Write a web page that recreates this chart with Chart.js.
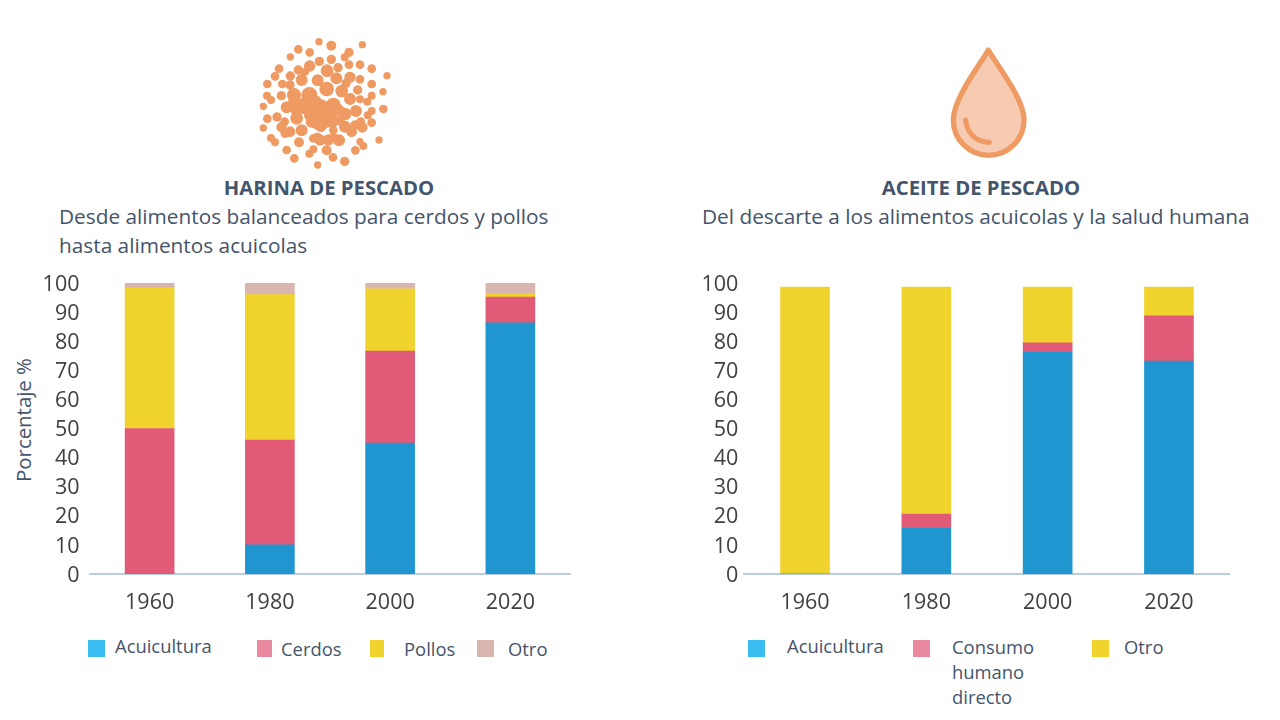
<!DOCTYPE html>
<html lang="es"><head><meta charset="utf-8">
<script src="https://cdn.jsdelivr.net/npm/chart.js@4"></script>
<style>
html,body{margin:0;padding:0;background:#fff;width:1280px;height:720px;overflow:hidden;font-family:"Open Sans",sans-serif}
.t{position:absolute;white-space:nowrap;color:#44546a;line-height:1;transform:translateY(-50%)}
.h{font-weight:700;font-size:20.3px;transform:translate(-50%,-50%)}
.s{font-size:20.8px}
.l{font-size:18.4px}
.y{font-size:20.4px;transform:translate(-50%,-50%) rotate(-90deg)}
.sw{position:absolute;width:17px;height:17px;top:640px}
.c{position:absolute;top:260px;width:640px;height:360px}
svg{position:absolute}
</style></head><body>
<svg id="meal" style="left:240px;top:30px" width="170" height="140" viewBox="0 0 510 420" fill="#ee9a62" stroke="#ee9a62" stroke-width="4"></svg>
<svg style="left:930px;top:35px" width="120" height="130" viewBox="0 0 360 390">
<path d="M175 45C150 90 70 190 70 255A106 106 0 0 0 282 255C282 190 200 90 175 45Z" fill="#f6cbb2" stroke="#ee9a62" stroke-width="16" stroke-linejoin="round"/>
<path d="M107 255C110 295 140 322 178 322" fill="none" stroke="#ee9a62" stroke-width="15" stroke-linecap="round"/>
</svg>
<div class="t h" style="left:329px;top:187px">HARINA DE PESCADO</div>
<div class="t h" style="left:981px;top:187px">ACEITE DE PESCADO</div>
<div class="t s" style="left:59px;top:216px">Desde alimentos balanceados para cerdos y pollos</div>
<div class="t s" style="left:59px;top:245px">hasta alimentos acuicolas</div>
<div class="t s" style="left:702px;top:216px">Del descarte a los alimentos acuicolas y la salud humana</div>
<div class="t y" id="ytitle" style="left:23px;top:420px"></div>
<div class="c" style="left:0"><canvas id="left"></canvas></div>
<div class="c" style="left:640px"><canvas id="right"></canvas></div>
<div id="legends"></div>
<script>
const years = ['1960','1980','2000','2020'];
const mealAcuicultura = [0,10,45,86.3];
const mealCerdos = [50,36,31.6,8.9];
const mealPollos = [48.3,50,21.4,1];
const mealOtro = [1.7,4,2,3.8];
const oilAcuicultura = [0,15.8,76.3,73.2];
const oilConsumo = [0,4.8,3.1,15.5];
const oilOtro = [98.6,78,19.2,9.9];
const yAxisTitle = 'Porcentaje %';
const mealLegend = ['Acuicultura','Cerdos','Pollos','Otro'];
const oilLegend = ['Acuicultura','Consumo humano directo','Otro'];

const BLUE='#1f96d0',PINK='#e15a78',YELLOW='#f0d32d',ROSE='#d9b5af';
const dots=[[237,35,9],[274,47,13],[367,44,9],[175,58,11],[209,67,11],[327,67,12],[314,82,10],[151,81,9],[238,94,12],[274,88,12],[327,104,11],[360,104,11],[117,116,11],[209,108,15],[195,125,10],[175,120,12],[261,122,17],[294,113,12],[395,116,11],[441,137,9],[105,139,11],[151,138,12],[185,150,16],[233,151,16],[289,145,16],[330,142,15],[360,148,11],[318,160,12],[82,162,11],[127,162,11],[150,165,12],[395,162,11],[260,177,20],[305,183,17],[353,180,12],[429,185,9],[162,195,19],[208,195,22],[81,197,10],[93,210,10],[124,197,12],[395,197,10],[330,207,16],[360,208,10],[382,215,10],[70,229,9],[140,232,16],[170,235,20],[205,232,22],[240,240,30],[280,225,20],[315,252,17],[348,243,16],[430,237,11],[395,243,10],[383,256,10],[82,266,11],[111,261,12],[170,265,17],[240,270,30],[134,275,11],[124,292,13],[70,294,9],[185,301,16],[150,305,14],[135,310,12],[243,292,13],[280,300,11],[315,290,16],[335,305,14],[362,275,11],[367,292,14],[395,278,11],[93,324,10],[105,337,10],[177,337,13],[220,325,11],[240,330,15],[265,330,15],[297,331,16],[417,330,9],[360,335,9],[370,348,10],[140,360,11],[220,358,10],[208,371,10],[260,361,13],[346,361,11],[163,385,11],[279,382,11],[314,394,12],[233,405,9],[190,228,22],[215,252,22],[262,250,26],[225,215,18],[295,240,16],[275,272,20],[215,275,16],[160,215,14],[300,272,12],[345,285,12],[128,285,10],[232,322,12],[280,322,12]];
document.getElementById('meal').innerHTML=dots.map(d=>`<circle cx="${d[0]}" cy="${d[1]}" r="${d[2]}"/>`).join('');
document.getElementById('ytitle').textContent=yAxisTitle;

function legend(swatches,labels){
  const root=document.getElementById('legends');
  swatches.forEach(s=>{const e=document.createElement('div');e.className='sw';e.style.left=s[0]+'px';e.style.background=s[1];e.style.width=(s[2]||17)+'px';root.appendChild(e);});
  labels.forEach(t=>{const e=document.createElement('div');e.className='t l';e.style.left=t[1]+'px';e.style.top=t[2]+'px';e.textContent=t[0];root.appendChild(e);});
}
const [cons,hum,dir]=oilLegend[1].split(' ');
legend([[88,'#3bbcf0'],[257,'#ea8aa0',15],[370,'#f0d32d',14],[477,'#d9b5af']],
 [[mealLegend[0],115,646],[mealLegend[1],281,649],[mealLegend[2],404,649],[mealLegend[3],508,649]]);
legend([[748,'#3bbcf0'],[913,'#ea8aa0'],[1092,'#f0d32d']],
 [[oilLegend[0],787,646],[cons,952,647],[hum,952,672],[dir,952,697],[oilLegend[2],1124,647]]);

function make(id,datasets,opt){
  return new Chart(document.getElementById(id),{type:'bar',
    data:{labels:years,datasets:datasets.map(d=>({label:d[0],data:d[1],backgroundColor:d[2],borderWidth:0,barThickness:49}))},
    options:{responsive:false,animation:false,
      layout:{padding:{top:23,right:opt.right,left:0,bottom:0}},
      plugins:{legend:{display:false},tooltip:{enabled:false}},
      scales:{
        x:{stacked:true,grid:{display:false,drawTicks:false},border:{color:'#b9cede',width:2},
           ticks:{color:'#404040',font:{family:'"Open Sans"',size:21.5},padding:16,maxRotation:0},
           afterFit(s){s.height=46;}},
        y:{stacked:true,min:0,max:100,grid:{display:false,drawTicks:false},border:{display:false},
           ticks:{stepSize:10,color:'#404040',font:{family:'"Open Sans"',size:21.5},padding:opt.pad,labelOffset:1.5},
           afterFit(s){s.width=opt.left;}}
      }}});
}
function sized(id){const c=document.getElementById(id);c.width=640;c.height=360;c.style.width='640px';c.style.height='360px';}
sized('left');sized('right');
make('left',[['Acuicultura',mealAcuicultura,BLUE],['Cerdos',mealCerdos,PINK],['Pollos',mealPollos,YELLOW],['Otro',mealOtro,ROSE]],{left:89.5,right:69.5,pad:10});
make('right',[['Acuicultura',oilAcuicultura,BLUE],['Consumo humano directo',oilConsumo,PINK],['Otro',oilOtro,YELLOW]],{left:104.4,right:50.4,pad:6});
</script>
</body></html>
